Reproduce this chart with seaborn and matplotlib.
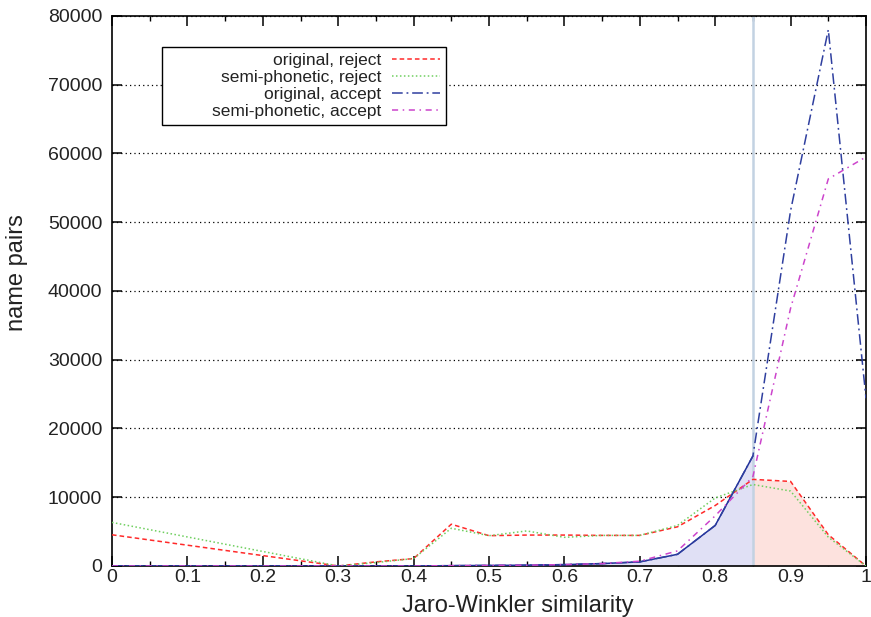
import numpy as np
import pandas as pd
import matplotlib
matplotlib.use("Agg")
import matplotlib.pyplot as plt
import seaborn as sns

# Jaro-Winkler similarity bins and name pair counts
sim = [0, 0.3, 0.35, 0.4, 0.45, 0.5, 0.55, 0.6, 0.65, 0.7, 0.75, 0.8, 0.85, 0.9, 0.95, 1.0]
orig_reject = [4540, 0, 600, 1080, 6080, 4410, 4500, 4500, 4450, 4450, 5700, 8800, 12600, 12300, 4550, 0]
semi_reject = [6340, 0, 500, 1080, 5490, 4410, 5100, 4170, 4450, 4450, 5900, 9900, 11850, 10900, 4200, 0]
orig_accept = [0, 0, 0, 0, 50, 80, 120, 200, 350, 600, 1700, 5900, 16000, 51700, 78000, 24400]
semi_accept = [0, 0, 0, 0, 50, 80, 120, 200, 350, 700, 2200, 7300, 13000, 37500, 56300, 59500]
threshold = 0.85

series_names = ["original, reject", "semi-phonetic, reject", "original, accept", "semi-phonetic, accept"]
series_vals = [orig_reject, semi_reject, orig_accept, semi_accept]
colors = ["#ff2a2a", "#6fcf5f", "#2f3f9f", "#cc44cc"]
styles = [(0, (3, 2)), (0, (1, 1.6)), (0, (7, 2.5, 1.2, 2.5)), (0, (4, 3, 1, 3))]

df = pd.DataFrame({"sim": sim})
for name, vals in zip(series_names, series_vals):
    df[name] = vals

sns.set_style("ticks")
plt.rcParams["font.family"] = ["Liberation Sans", "DejaVu Sans"]

fig = plt.figure(figsize=(8.71, 6.17), dpi=100)
ax = fig.add_axes([0.12859, 0.08266, 0.86567, 0.89141])

x = df["sim"].to_numpy()
ax.fill_between(x, 0, df["original, accept"], where=x <= threshold,
                color="#e0e0f5", lw=0, zorder=1)
ax.fill_between(x, 0, df["original, reject"], where=x >= threshold,
                color="#fde2de", lw=0, zorder=1)

below = df[df["sim"] <= threshold]
sns.lineplot(data=below, x="sim", y="original, accept", color="#1f2f9a", lw=1.1,
             label="_nolegend_", ax=ax, zorder=3)

ax.axvline(threshold, color="#c3d2e2", lw=1.8, zorder=2)

for name, c, ls in zip(series_names, colors, styles):
    sns.lineplot(data=df, x="sim", y=name, color=c, linestyle=ls, lw=1.1,
                 label=name, ax=ax, zorder=4)

ax.set_xlim(0, 1)
ax.set_ylim(0, 80000)
xt = np.round(np.arange(0, 1.01, 0.1), 1)
ax.set_xticks(xt)
ax.set_xticklabels(["0", "0.1", "0.2", "0.3", "0.4", "0.5", "0.6", "0.7", "0.8", "0.9", "1"])
ax.set_xticks(np.round(np.arange(0.05, 1.0, 0.1), 2), minor=True)
ax.set_yticks(np.arange(0, 80001, 10000))
ax.tick_params(axis="both", which="both", direction="in", top=True, right=True,
               labelsize=14, color="black", labelcolor="#222222")
ax.tick_params(axis="both", which="major", length=7, width=1.1)
ax.tick_params(axis="x", which="minor", length=3.5, width=1.0)
ax.tick_params(axis="x", which="major", pad=2.5)
ax.tick_params(axis="y", which="major", pad=7)
for s in ax.spines.values():
    s.set_color("black")
    s.set_linewidth(1.2)

ax.yaxis.grid(True, color="black", linestyle=(0, (1, 2.5)), lw=0.9)
ax.xaxis.grid(False)
ax.set_axisbelow(True)

ax.set_xlabel("Jaro-Winkler similarity", fontsize=17, color="#222222")
ax.set_ylabel("name pairs", fontsize=17, color="#222222")
ax.xaxis.set_label_coords(0.538, -0.053)
ax.yaxis.set_label_coords(-0.111, 0.533)

leg = ax.legend(loc="upper left", bbox_to_anchor=(0.0663, 0.9436), borderaxespad=0,
                markerfirst=False, frameon=True, fancybox=False, edgecolor="black",
                framealpha=1, fontsize=12.5, handlelength=2.8, handletextpad=0.6,
                labelspacing=0.1, borderpad=0.35)
leg.get_frame().set_linewidth(1.0)
for t in leg.get_texts():
    t.set_color("#222222")

# right-align the labels next to the line samples (gnuplot-style key)
fig.canvas.draw()
renderer = fig.canvas.get_renderer()
texts = leg.get_texts()
widths = [t.get_window_extent(renderer).width for t in texts]
full = max(widths) + 44
rows = [row for col in leg._legend_handle_box.get_children() for row in col.get_children()]
for row, t, w in zip(rows, texts, widths):
    t.set_position((full - w, 0))
    row.sep += (full - w) * 72 / fig.dpi

fig.savefig("out.png", dpi=100)
